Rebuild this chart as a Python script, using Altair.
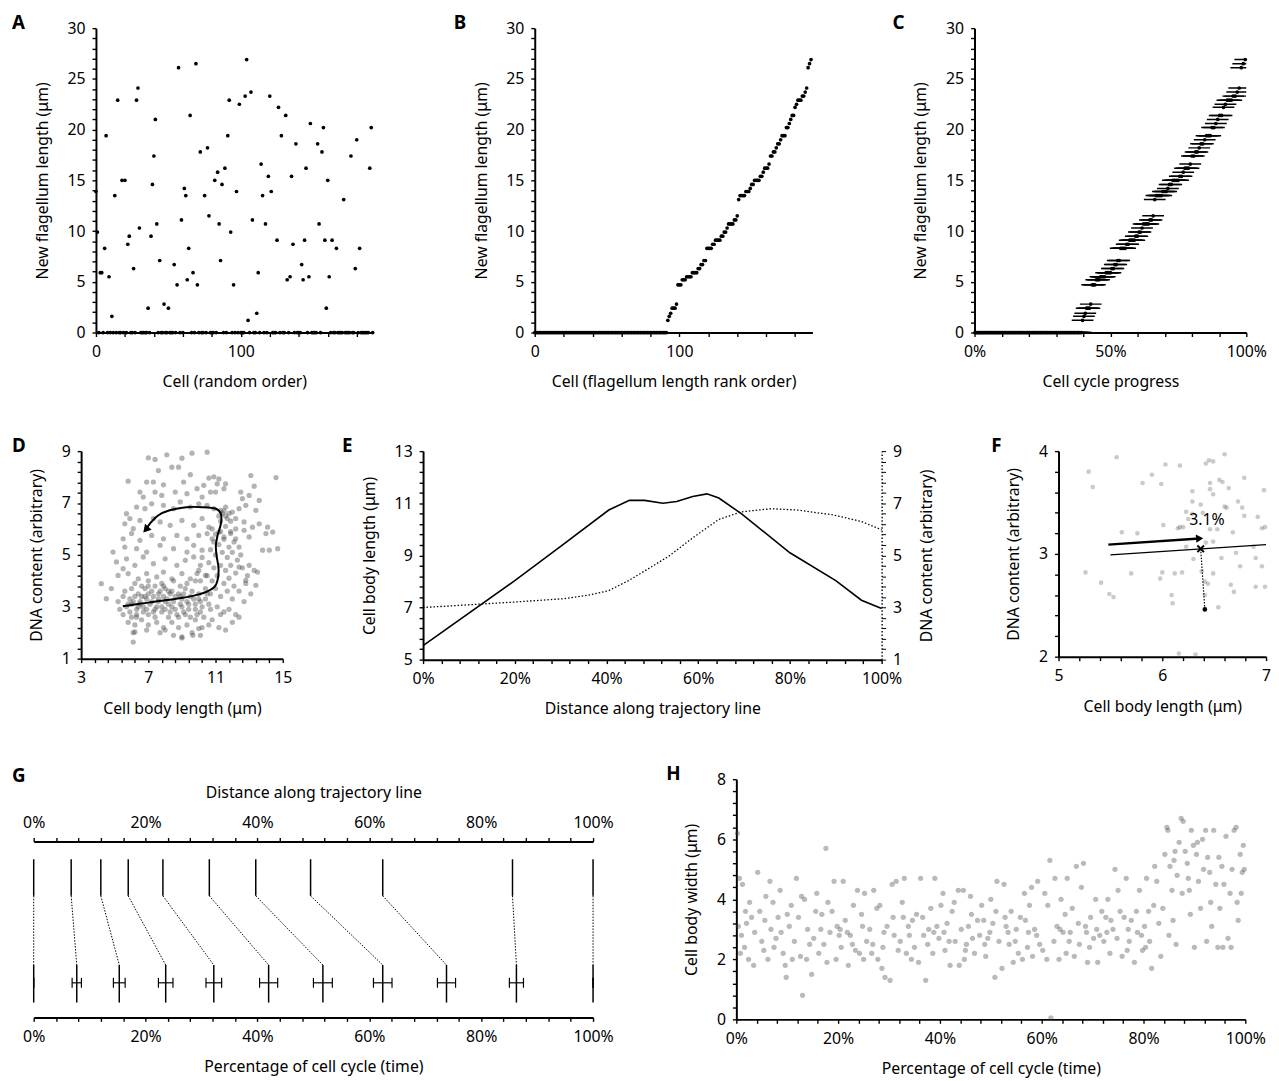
import json
import numpy as np
import pandas as pd
import altair as alt

FONT = "Noto Sans"
FS = 16

# ---------------- Panels A-C: new flagellum length per cell ----------------
N_CELLS = 192
nonzero_cell = [0, 1, 3, 4, 6, 7, 9, 11, 13, 15, 18, 20, 22, 23, 26, 28, 29, 30, 36, 38,
                39, 40, 41, 42, 44, 47, 50, 54, 56, 57, 59, 61, 62, 63, 64, 65, 67, 69, 70, 72,
                75, 77, 78, 82, 84, 85, 86, 87, 89, 91, 92, 93, 95, 97, 99, 103, 104, 105, 107, 108,
                111, 112, 114, 115, 117, 119, 120, 121, 125, 126, 128, 131, 132, 134, 135, 136, 138, 142, 143, 144,
                145, 147, 148, 153, 154, 156, 157, 158, 159, 160, 161, 163, 166, 171, 176, 179, 180, 182, 189, 190]
nonzero_len = [13.9, 9.9, 5.9, 5.9, 8.3, 19.4, 5.5, 1.6, 13.5, 22.9, 15.0, 15.0, 8.7, 9.5, 6.3, 22.9, 24.1, 10.3, 2.4, 9.5,
               14.6, 17.4, 21.0, 10.7, 7.1, 2.8, 2.4, 6.7, 4.7, 26.1, 11.1, 14.2, 13.5, 5.2, 8.3, 21.4, 5.9, 26.5, 4.7, 17.8,
               13.5, 18.2, 11.5, 15.0, 15.8, 10.7, 7.1, 14.6, 16.2, 19.4, 22.9, 9.9, 4.7, 13.9, 22.5, 23.3, 26.9, 1.2, 23.7, 11.1,
               1.9, 5.9, 16.6, 13.5, 10.7, 15.4, 23.3, 13.9, 9.1, 22.2, 19.4, 21.4, 5.2, 5.5, 15.4, 8.7, 18.6, 6.7, 5.2, 9.1,
               16.2, 5.5, 20.6, 18.6, 10.7, 17.8, 20.2, 9.1, 2.4, 15.0, 5.5, 9.1, 8.3, 13.1, 17.4, 6.3, 19.0, 8.3, 16.2, 20.2]
c_progress_err = 4.0  # +/- cell-cycle progress uncertainty (%)

# ---------------- Panel D: cell body length vs DNA content ----------------
d_points = [
    (7.0, 8.74), (7.4, 8.68), (8.1, 8.86), (9.0, 8.73), (9.6, 8.92), (10.5, 8.96),
    (7.6, 8.25), (8.4, 8.38), (8.8, 8.38), (9.5, 8.09),
    (5.8, 7.84), (6.9, 7.81), (7.3, 7.81), (7.9, 7.70), (9.1, 7.81), (10.6, 7.96), (10.9, 8.01), (11.2, 7.93),
    (11.6, 7.74), (13.1, 8.06), (14.6, 7.98), (13.3, 7.65), (10.3, 7.68), (11.1, 7.74),
    (6.5, 7.42), (6.7, 7.23), (7.4, 7.42), (7.8, 7.29), (8.6, 7.42), (9.3, 7.36), (9.9, 7.55), (10.2, 7.23),
    (10.7, 7.42), (11.0, 7.42), (11.5, 7.55), (12.5, 7.42), (12.6, 7.17), (13.0, 7.29), (13.6, 7.10),
    (5.7, 6.59), (6.3, 6.84), (6.8, 6.78), (7.2, 6.97), (7.9, 6.91), (8.5, 6.78), (8.9, 7.04), (9.5, 6.84),
    (10.0, 6.97), (10.5, 6.91), (10.9, 6.78), (11.3, 6.72), (11.6, 6.84), (12.0, 6.65), (12.4, 6.78), (12.8, 6.91), (13.4, 6.72),
    (11.4, 6.6), (11.6, 6.5), (11.5, 6.7), (11.7, 6.4), (11.3, 6.3), (11.8, 6.6), (11.2, 6.5), (11.9, 6.3),
    (5.6, 6.20), (6.1, 6.01), (6.5, 6.33), (7.7, 6.27), (8.3, 6.14), (9.0, 6.33), (9.7, 6.14), (10.2, 6.40),
    (10.6, 6.07), (12.2, 6.40), (12.7, 6.27), (13.2, 6.07), (13.6, 6.20), (14.1, 6.07), (7.3, 6.40), (5.9, 6.40),
    (5.5, 5.62), (6.0, 5.82), (6.5, 5.56), (7.2, 5.75), (7.9, 5.62), (8.7, 5.75), (9.3, 5.62), (10.0, 5.75),
    (10.5, 5.82), (10.8, 5.62), (11.2, 5.88), (11.5, 5.69), (11.9, 5.82), (12.2, 5.62), (12.7, 5.95), (13.0, 5.69),
    (14.0, 5.82), (14.4, 5.88), (13.8, 5.18), (14.2, 5.18), (14.7, 5.24),
    (10.8, 6.0), (11.0, 5.8), (11.3, 5.9), (11.6, 6.1), (11.9, 5.9), (12.2, 6.0), (10.9, 5.5), (11.2, 5.4),
    (11.5, 5.6), (11.8, 5.3), (12.1, 5.5), (12.4, 5.3), (10.7, 5.2), (11.0, 5.0), (11.4, 5.1), (11.7, 4.9),
    (12.0, 5.1), (12.3, 4.8), (10.6, 4.7), (10.9, 4.5), (11.3, 4.6), (11.6, 4.4), (11.9, 4.6), (12.2, 4.3),
    (12.6, 4.5), (10.5, 4.2), (10.8, 4.0), (11.1, 4.2), (11.5, 3.9), (11.8, 4.1), (12.1, 3.8), (10.4, 3.7),
    (10.7, 3.5), (11.0, 3.7), (11.3, 3.4), (11.7, 3.6), (12.0, 3.3), (12.4, 3.6), (12.8, 3.9), (10.2, 4.9),
    (10.0, 4.4), (9.8, 4.0), (12.5, 5.0), (12.9, 4.2), (13.3, 4.4), (12.7, 3.2), (13.1, 3.5),
    (5.6, 5.30), (6.3, 5.24), (6.9, 5.11), (7.7, 5.37), (8.5, 5.24), (9.3, 5.11), (9.7, 5.37), (10.2, 5.18), (4.9, 5.11),
    (5.1, 4.73), (5.7, 4.85), (6.2, 4.60), (6.7, 4.92), (7.3, 4.66), (8.0, 4.85), (8.7, 4.60), (9.2, 4.79),
    (9.7, 4.92), (10.1, 4.60), (12.4, 4.53), (13.0, 4.60), (13.5, 4.34), (5.5, 4.47),
    (5.2, 4.21), (4.8, 3.70), (5.8, 4.28), (6.4, 4.08), (6.9, 4.28), (7.5, 4.15), (7.9, 4.34), (8.4, 4.08),
    (9.0, 4.28), (9.5, 4.08), (9.9, 4.28), (10.4, 4.21), (12.8, 4.02), (13.4, 3.83), (4.5, 3.31), (4.2, 3.89),
    (6.2, 3.9), (7.0, 4.0), (7.8, 3.9), (8.5, 4.0), (9.3, 3.9), (10.1, 4.0), (7.4, 3.8), (8.9, 3.8),
    (5.6, 3.6), (6.0, 3.7), (6.4, 3.5), (6.8, 3.7), (7.2, 3.6), (7.6, 3.5), (8.0, 3.7), (8.4, 3.6),
    (8.8, 3.5), (9.2, 3.7), (9.6, 3.6), (10.0, 3.5), (10.4, 3.3), (6.6, 3.8), (7.9, 3.4), (9.0, 3.3),
    (5.2, 3.2), (5.5, 3.4), (5.9, 3.3), (6.2, 3.4), (6.5, 3.2), (6.9, 3.3), (7.3, 3.4), (7.6, 3.2),
    (8.1, 3.3), (8.5, 3.2), (8.9, 3.4), (9.3, 3.2), (9.7, 3.3), (10.1, 3.2), (10.6, 3.1), (7.0, 3.5), (8.3, 3.5),
    (5.3, 2.9), (5.7, 3.0), (6.0, 3.1), (6.3, 2.9), (6.7, 3.0), (7.1, 3.1), (7.4, 2.9), (7.8, 3.0),
    (8.2, 3.1), (8.6, 2.9), (9.0, 3.0), (9.4, 3.1), (9.8, 2.9), (10.2, 3.0), (10.7, 2.9), (11.1, 3.0),
    (11.5, 2.8), (6.5, 3.1), (8.0, 2.9),
    (5.5, 2.7), (5.9, 2.8), (6.3, 2.6), (6.7, 2.8), (7.0, 2.7), (7.4, 2.6), (7.8, 2.8), (8.2, 2.6),
    (8.7, 2.7), (9.1, 2.8), (9.5, 2.6), (9.9, 2.7), (10.3, 2.6), (10.8, 2.5), (11.3, 2.7), (11.8, 2.9), (12.2, 2.7),
    (5.8, 2.4), (6.2, 2.3), (6.6, 2.5), (7.0, 2.3), (7.5, 2.4), (7.9, 2.2), (8.4, 2.4), (8.8, 2.2),
    (9.3, 2.3), (9.8, 2.5), (10.2, 2.2), (10.6, 2.3), (11.2, 2.2), (12.0, 2.4), (12.4, 2.6),
    (6.1, 2.0), (6.9, 2.1), (7.7, 2.0), (8.5, 1.9), (9.6, 2.0), (9.0, 1.8), (10.1, 1.9), (11.6, 2.1), (8.0, 2.1),
    (6.2, 2.03), (6.1, 1.64), (9.0, 1.84), (9.65, 1.90), (10.0, 2.16),
    (6.1, 3.2), (6.4, 3.0), (6.8, 3.4), (7.2, 3.2), (7.5, 3.0), (7.7, 3.6), (8.0, 3.2), (8.3, 2.8),
    (8.6, 3.4), (8.9, 3.1), (9.2, 2.7), (9.5, 3.4), (9.8, 3.1), (10.1, 2.8), (6.3, 2.7), (6.9, 2.9),
    (7.3, 2.8), (7.6, 3.3), (8.4, 3.0), (8.8, 2.6), (9.4, 2.9), (10.0, 3.3), (10.5, 3.5), (7.0, 3.8),
    (7.9, 3.8), (6.6, 3.4), (8.2, 3.6), (9.1, 3.5), (5.8, 3.1), (6.0, 2.6),
]
traj_d_len = [5.48, 6.99, 8.66, 9.65, 10.44, 10.93, 11.12, 11.18, 11.06, 11.02, 11.12, 11.32, 11.32,
              11.02, 10.24, 9.26, 8.27, 7.58, 7.09, 6.90]
traj_d_dna = [3.02, 3.16, 3.31, 3.42, 3.57, 3.76, 4.02, 4.47, 4.98, 5.37, 5.75, 6.20, 6.59,
              6.78, 6.84, 6.84, 6.72, 6.52, 6.20, 6.01]

# ---------------- Panel E: profiles along the trajectory ----------------
e_len_dist = [0, 20, 30, 40.5, 45, 48.3, 52.3, 55.3, 58.8, 61.9, 64.5, 69.4, 80, 90, 95.6, 100]
e_len = [5.54, 8.03, 9.35, 10.74, 11.11, 11.11, 11.0, 11.07, 11.26, 11.36, 11.2, 10.6, 9.1, 8.03, 7.28, 6.96]
e_dna_dist = [0, 12.4, 20, 30.8, 36, 40.5, 44.8, 48.3, 53.6, 58.8, 64.5, 69.4, 75.9, 81.6, 89.5, 95.6, 100]
e_dna = [3.0, 3.13, 3.21, 3.34, 3.47, 3.65, 4.03, 4.4, 4.97, 5.67, 6.38, 6.67, 6.79, 6.74, 6.55, 6.3, 5.98]

# ---------------- Panel F: projection onto trajectory ----------------
f_points = [
    (5.56, 3.94), (5.29, 3.80), (5.33, 3.65), (6.03, 3.87), (6.17, 3.86), (6.42, 3.88), (6.45, 3.91), (6.49, 3.90),
    (6.60, 3.97), (5.90, 3.77), (5.81, 3.69), (5.99, 3.68), (6.29, 3.61), (6.29, 3.51), (6.37, 3.48), (6.46, 3.69),
    (6.46, 3.63), (6.49, 3.58), (6.55, 3.72), (6.58, 3.70), (6.64, 3.64), (6.60, 3.46), (6.62, 3.45), (6.79, 3.74),
    (6.73, 3.51), (6.77, 3.45), (6.79, 3.37), (6.92, 3.36), (6.98, 3.62), (6.23, 3.41), (6.29, 3.39), (6.39, 3.40),
    (6.17, 3.26), (6.20, 3.26), (6.25, 3.34), (6.01, 3.28), (6.15, 3.25), (6.46, 3.24), (6.53, 3.24), (6.68, 3.21),
    (6.96, 3.25), (6.99, 3.26), (5.61, 3.21), (5.76, 3.20), (6.23, 3.07), (6.49, 3.12), (6.71, 3.01), (6.88, 3.07),
    (6.57, 2.96), (6.30, 2.95), (5.26, 2.82), (5.70, 2.81), (5.41, 2.72), (5.98, 2.76), (6.00, 2.82), (6.12, 2.81),
    (6.19, 2.82), (6.38, 2.83), (6.49, 2.81), (6.41, 2.73), (6.44, 2.71), (6.75, 2.88), (6.90, 2.96), (6.96, 2.88),
    (6.66, 2.70), (6.69, 2.63), (6.90, 2.68), (6.99, 2.68), (5.49, 2.61), (5.53, 2.58), (6.09, 2.60), (6.10, 2.52),
    (6.41, 2.60), (6.54, 2.48), (6.16, 2.03), (6.32, 2.02), (6.42, 3.11),
]
f_traj_len = [5.5, 7.0]
f_traj_dna = [2.99, 3.09]
f_arrow_len = [5.48, 6.36]
f_arrow_dna = [3.09, 3.15]
f_cell_len, f_cell_dna = 6.41, 2.46
f_proj_len, f_proj_dna = 6.37, 3.05
f_label_len, f_label_dna, f_label_text = 6.43, 3.33, "3.1%"

# ---------------- Panel G: trajectory distance vs cell-cycle time ----------------
g_traj_pct = [0, 6.7, 12.0, 16.9, 23.1, 31.4, 39.7, 49.5, 62.4, 85.6, 100]
g_time_pct = [0, 7.7, 15.3, 23.6, 32.2, 42.0, 51.7, 62.4, 73.8, 86.3, 100]
g_time_err = [0, 0.83, 1.05, 1.3, 1.4, 1.62, 1.69, 1.66, 1.62, 1.26, 0]

# ---------------- Panel H: cell body width over the cell cycle ----------------
h_points = [
    (0.2, 6.2), (0.6, 4.7), (1.2, 4.5), (1.8, 3.6), (0.4, 3.1), (1.0, 2.8), (1.6, 2.4), (2.4, 2.0), (3.0, 3.4),
    (3.6, 2.9), (2.6, 3.9), (0.8, 2.2), (3.4, 1.8), (2.0, 3.2),
    (4.2, 4.9), (5.0, 2.6), (5.6, 3.3), (6.2, 2.0), (6.6, 4.6), (7.2, 3.9), (7.8, 2.7), (4.6, 3.6), (5.4, 2.3),
    (6.8, 3.0), (7.4, 2.4), (5.8, 4.1),
    (8.2, 3.4), (8.6, 4.3), (9.2, 2.2), (9.6, 1.8), (10.0, 3.5), (10.4, 3.1), (11.0, 2.0), (11.4, 2.6), (9.8, 1.4),
    (11.8, 4.7), (8.8, 2.9), (10.8, 3.8),
    (12.2, 3.4), (12.6, 2.1), (13.0, 0.8), (13.4, 4.0), (14.0, 3.0), (14.4, 2.5), (14.8, 1.5), (15.2, 2.7),
    (15.6, 3.6), (12.8, 4.1), (13.8, 2.0), (15.8, 4.2),
    (16.2, 2.2), (16.6, 3.0), (17.2, 2.5), (17.6, 5.7), (18.0, 3.9), (18.4, 2.9), (18.8, 3.6), (19.2, 4.6),
    (19.6, 2.0), (16.8, 3.5), (17.8, 1.9), (19.8, 3.1),
    (20.2, 2.8), (20.6, 2.4), (21.0, 4.6), (21.4, 3.3), (22.0, 1.8), (22.4, 2.8), (23.0, 3.8), (23.4, 2.3),
    (23.8, 4.3), (21.8, 2.9), (22.8, 2.5), (20.4, 3.0),
    (24.2, 2.2), (24.8, 3.1), (25.2, 4.2), (25.6, 2.6), (26.2, 3.0), (26.6, 2.2), (27.0, 4.3), (27.6, 3.7),
    (27.8, 2.0), (25.0, 2.0), (26.8, 2.5), (24.6, 3.5),
    (28.2, 3.8), (28.8, 2.4), (29.2, 1.4), (29.6, 3.1), (30.2, 1.3), (30.6, 4.5), (31.0, 2.8), (31.4, 4.6),
    (31.8, 2.3), (29.0, 2.9), (30.8, 3.4), (28.6, 1.7),
    (32.2, 2.6), (32.6, 3.9), (33.0, 4.7), (33.4, 2.2), (34.0, 2.8), (34.6, 3.3), (35.0, 2.4), (35.4, 3.5),
    (35.8, 1.9), (33.8, 3.1), (34.4, 2.0), (32.8, 3.4),
    (36.2, 4.7), (36.8, 2.8), (37.2, 1.3), (37.6, 2.5), (38.2, 3.7), (38.6, 2.2), (39.0, 4.7), (39.4, 3.1),
    (39.8, 2.7), (36.6, 3.4), (37.8, 3.0), (38.8, 2.9),
    (40.2, 3.8), (40.6, 4.2), (41.0, 2.3), (41.4, 3.2), (42.0, 1.8), (42.4, 3.6), (43.0, 2.6), (43.6, 4.3),
    (43.8, 1.8), (41.8, 2.6), (42.8, 3.9), (40.8, 2.9),
    (44.2, 3.0), (44.6, 4.3), (45.0, 2.3), (45.6, 3.1), (46.0, 4.1), (46.4, 2.7), (46.8, 2.2), (47.4, 3.3),
    (47.8, 2.8), (45.2, 2.5), (46.2, 3.5), (44.8, 2.0),
    (48.2, 3.8), (48.6, 3.3), (49.0, 2.1), (49.4, 2.7), (50.0, 4.0), (50.4, 3.2), (50.8, 1.4), (51.2, 4.6),
    (51.6, 2.6), (49.8, 2.9), (51.0, 3.6), (48.8, 2.5),
    (52.2, 1.7), (52.6, 4.5), (53.0, 3.1), (53.6, 2.5), (54.0, 3.6), (54.4, 1.9), (55.0, 3.0), (55.4, 2.2),
    (55.8, 3.4), (53.4, 2.9), (54.8, 2.6), (52.8, 3.4),
    (56.2, 2.0), (56.6, 4.2), (57.2, 2.4), (57.6, 3.8), (58.2, 2.1), (58.6, 3.0), (59.2, 4.6), (59.6, 2.5),
    (58.0, 4.4), (56.8, 3.3), (59.0, 2.8), (57.4, 2.9),
    (60.2, 2.3), (60.6, 4.2), (61.2, 3.8), (61.6, 5.3), (61.8, 0.05), (62.4, 2.6), (63.0, 3.1), (63.4, 2.0),
    (63.8, 4.0), (62.6, 4.7), (61.0, 2.0), (63.6, 3.0),
    (64.2, 2.9), (64.6, 3.5), (65.0, 4.7), (65.4, 2.6), (66.0, 3.7), (66.4, 2.1), (66.8, 5.1), (67.2, 3.2),
    (67.8, 4.4), (65.6, 2.9), (67.4, 2.5), (64.8, 2.2),
    (68.2, 5.2), (68.6, 3.1), (69.0, 1.9), (69.6, 3.4), (70.2, 2.7), (70.6, 4.0), (71.0, 1.9), (71.4, 2.8),
    (71.8, 3.6), (69.4, 2.4), (70.8, 3.0), (68.8, 2.9),
    (72.2, 2.6), (72.6, 3.4), (73.0, 4.0), (73.4, 2.2), (74.0, 3.0), (74.4, 5.0), (74.8, 2.7), (75.4, 3.6),
    (75.8, 2.1), (73.6, 3.3), (75.0, 4.3), (72.8, 2.9),
    (76.2, 3.4), (76.6, 4.7), (77.2, 2.6), (77.6, 3.3), (78.2, 1.9), (78.6, 3.6), (79.2, 4.3), (79.6, 2.8),
    (79.8, 2.3), (77.0, 3.0), (78.8, 2.9), (76.8, 2.3),
    (80.2, 3.1), (80.6, 4.7), (81.2, 2.6), (81.6, 1.7), (82.0, 3.8), (82.2, 5.1), (82.6, 4.6), (83.0, 3.2),
    (83.4, 2.1), (83.8, 3.7), (81.0, 3.6), (80.4, 2.4),
    (84.2, 5.5), (84.6, 6.4), (84.8, 6.3), (85.2, 5.1), (85.6, 4.3), (85.8, 3.3), (86.2, 5.6), (86.6, 4.8),
    (87.0, 5.9), (87.4, 6.7), (87.8, 6.6), (86.4, 2.5), (85.0, 2.8), (87.6, 4.2), (86.0, 5.3),
    (88.2, 5.6), (88.6, 5.2), (89.0, 4.3), (89.4, 6.3), (89.8, 5.8), (90.0, 2.4), (90.4, 5.5), (90.8, 4.6),
    (91.2, 3.7), (91.6, 6.0), (91.8, 5.0), (89.2, 3.5), (90.6, 5.9), (88.8, 4.7),
    (92.2, 6.3), (92.6, 5.4), (93.0, 4.9), (93.4, 3.1), (93.8, 6.3), (94.2, 4.5), (94.6, 2.4), (95.0, 3.7),
    (95.4, 5.1), (95.8, 4.5), (94.8, 5.4), (93.2, 3.9), (92.4, 2.6), (95.6, 2.4),
    (96.2, 6.1), (96.6, 2.7), (97.0, 4.2), (97.4, 5.0), (97.8, 6.3), (98.2, 6.4), (98.6, 3.3), (99.0, 5.5),
    (99.4, 4.9), (99.8, 5.0), (99.6, 5.8), (97.2, 2.4), (98.4, 3.9), (99.2, 4.2),
]

# ---------------- axis tick lists ----------------
ticks_flag_y = list(range(0, 31));            major_flag_y = [0, 5, 10, 15, 20, 25, 30]
ticks_cell_x = list(range(0, 181, 20));       major_cell_x = [0, 100]
ticks_C_x = list(range(0, 101, 10));          major_C_x = [0, 50, 100]
ticks_pct4 = list(range(0, 101, 4));          major_pct20 = [0, 20, 40, 60, 80, 100]
ticks_D_x = [round(3 + 0.8 * i, 1) for i in range(16)];  major_D_x = [3, 7, 11, 15]
ticks_dna = [round(1 + 0.4 * i, 1) for i in range(21)];  major_dna = [1, 3, 5, 7, 9]
ticks_E_y = [round(5 + 0.4 * i, 1) for i in range(21)];  major_E_y = [5, 7, 9, 11, 13]
ticks_F_x = [round(5 + 0.2 * i, 1) for i in range(11)];  major_F_x = [5, 6, 7]
ticks_F_y = [round(2 + 0.2 * i, 1) for i in range(11)];  major_F_y = [2, 3, 4]
ticks_H_y = [round(0.4 * i, 1) for i in range(21)];      major_H_y = [0, 2, 4, 6, 8]


def ax(values, majors, title, pct=False, lp=7, tp=15, **kw):
    test = "indexof(%s, datum.value) >= 0" % json.dumps(majors)
    lab = "format(datum.value, '~g') + '%'" if pct else "format(datum.value, '~g')"
    d = dict(values=values, title=title, grid=False,
             labelExpr=f"{test} ? {lab} : ''",
             tickSize=4,
             labelOverlap=False, labelFlush=False,
             labelPadding=lp, titlePadding=tp,
             domainColor="black", domainWidth=2, tickColor="black", tickWidth=1.4,
             labelFont=FONT, labelFontSize=FS, labelColor="black",
             titleFont=FONT, titleFontSize=FS, titleFontWeight="normal", titleColor="black")
    d.update(kw)
    return alt.Axis(**d)


def yax(values, majors, title, **kw):
    return ax(values, majors, title, tp=17, **kw)


def letter(t, dx, dy=17):
    return alt.TitleParams(text=t, anchor="start", frame="group", dx=dx, dy=dy,
                           font=FONT, fontSize=19, fontWeight="bold", color="black")


def spacer(w, h):
    return alt.Chart(pd.DataFrame({"s": [0]})).mark_point(opacity=0).encode(
        x=alt.X("s:Q", axis=None), y=alt.Y("s:Q", axis=None)).properties(width=w, height=h)


# ---------------- A ----------------
flag_random = [0.0] * N_CELLS
for c, v in zip(nonzero_cell, nonzero_len):
    flag_random[c] = v
dfA = pd.DataFrame({"cell": list(range(N_CELLS)), "len": flag_random})
yflag = alt.Y("len:Q", scale=alt.Scale(domain=[0, 30], nice=False),
              axis=yax(ticks_flag_y, major_flag_y, "New flagellum length (μm)"))
A = alt.Chart(dfA).mark_circle(size=14, color="black", opacity=1).encode(
    x=alt.X("cell:Q", scale=alt.Scale(domain=[0, 191], nice=False),
            axis=ax(ticks_cell_x, major_cell_x, "Cell (random order)")),
    y=yflag,
).properties(width=280, height=308, title=letter("A", -85))

# ---------------- B ----------------
dfB = pd.DataFrame({"rank": list(range(N_CELLS)), "len": sorted(flag_random)})
B = alt.Chart(dfB).mark_circle(size=14, color="black", opacity=1).encode(
    x=alt.X("rank:Q", scale=alt.Scale(domain=[0, 192], nice=False),
            axis=ax(ticks_cell_x, major_cell_x, "Cell (flagellum length rank order)")),
    y=yflag,
).properties(width=281, height=308, title=letter("B", -82))

# ---------------- C ----------------
dfC = dfB.copy()
# rank -> cell-cycle age for an exponentially growing population
dfC["progress"] = 100 * -np.log2(1 - (dfC["rank"] + 0.5) / (2 * N_CELLS))
dfC["lo"] = dfC["progress"] - c_progress_err
dfC["hi"] = dfC["progress"] + c_progress_err
scC = alt.Scale(domain=[0, 100], nice=False)
axC = ax(ticks_C_x, major_C_x, "Cell cycle progress", pct=True)
C_bars = alt.Chart(dfC).mark_rule(color="black", strokeWidth=1.5, clip=True).encode(
    x=alt.X("lo:Q", scale=scC, axis=axC), x2="hi:Q", y=yflag)
C_pts = alt.Chart(dfC).mark_circle(size=14, color="black", opacity=1).encode(
    x=alt.X("progress:Q", scale=scC, axis=axC), y=yflag)
C = alt.layer(C_bars, C_pts).properties(width=275, height=308, title=letter("C", -83))

# ---------------- D ----------------
dfD = pd.DataFrame(d_points, columns=["length", "dna"])
xD = alt.X("length:Q", scale=alt.Scale(domain=[3, 15], nice=False, zero=False),
           axis=ax(ticks_D_x, major_D_x, "Cell body length (μm)"))
yD = alt.Y("dna:Q", scale=alt.Scale(domain=[1, 9], nice=False, zero=False),
           axis=yax(ticks_dna, major_dna, "DNA content (arbitrary)"))
dfDt = pd.DataFrame({"length": traj_d_len, "dna": traj_d_dna, "order": list(range(len(traj_d_len)))})
D_pts = alt.Chart(dfD).mark_circle(size=28, color="#404040", opacity=0.4).encode(x=xD, y=yD)
D_line = alt.Chart(dfDt).mark_line(color="black", strokeWidth=2, interpolate="cardinal").encode(
    x=xD, y=yD, order="order:Q")
D_head = alt.Chart(dfDt.tail(1)).mark_point(shape="triangle", filled=True, size=80, angle=221,
                                            color="black", opacity=1).encode(x=xD, y=yD)
D = alt.layer(D_pts, D_line, D_head).properties(width=204, height=210, title=letter("D", -70))

# ---------------- E ----------------
dfEs = pd.DataFrame({"dist": e_len_dist, "len": e_len})
dfEd = pd.DataFrame({"dist": e_dna_dist, "dna": e_dna})
xE = alt.X("dist:Q", scale=alt.Scale(domain=[0, 100], nice=False),
           axis=ax(ticks_pct4, major_pct20, "Distance along trajectory line", pct=True))
E_solid = alt.Chart(dfEs).mark_line(color="black", strokeWidth=1.6).encode(
    x=xE, y=alt.Y("len:Q", scale=alt.Scale(domain=[5, 13], nice=False, zero=False),
                  axis=yax(ticks_E_y, major_E_y, "Cell body length (μm)", orient="left")))
E_dot = alt.Chart(dfEd).mark_line(color="black", strokeWidth=1.3, strokeDash=[1.5, 2]).encode(
    x=xE, y=alt.Y("dna:Q", scale=alt.Scale(domain=[1, 9], nice=False, zero=False),
                  axis=yax(ticks_dna, major_dna, "DNA content (arbitrary)", orient="right",
                           titleAngle=270, titleBaseline="top", domainDash=[1.5, 2],
                           domainWidth=1.4, tickWidth=1)))
E = alt.layer(E_solid, E_dot).resolve_scale(y="independent").properties(
    width=464, height=211, title=letter("E", -82))

# ---------------- F ----------------
dfF = pd.DataFrame(f_points, columns=["length", "dna"])
xF = alt.X("length:Q", scale=alt.Scale(domain=[5, 7], nice=False, zero=False),
           axis=ax(ticks_F_x, major_F_x, "Cell body length (μm)"))
yF = alt.Y("dna:Q", scale=alt.Scale(domain=[2, 4], nice=False, zero=False),
           axis=yax(ticks_F_y, major_F_y, "DNA content (arbitrary)"))
F_pts = alt.Chart(dfF).mark_circle(size=22, color="#404040", opacity=0.28).encode(x=xF, y=yF)
F_traj = alt.Chart(pd.DataFrame({"length": f_traj_len, "dna": f_traj_dna})).mark_line(
    color="black", strokeWidth=1.4, clip=True).encode(x=xF, y=yF)
dfFa = pd.DataFrame({"length": f_arrow_len, "dna": f_arrow_dna})
F_arrow = alt.Chart(dfFa).mark_line(color="black", strokeWidth=2.4).encode(x=xF, y=yF)
F_head = alt.Chart(dfFa.tail(1)).mark_point(shape="triangle-right", filled=True, size=70, angle=356,
                                            color="black", opacity=1).encode(x=xF, y=yF)
dfFp = pd.DataFrame({"length": [f_cell_len], "dna": [f_cell_dna],
                     "plen": [f_proj_len], "pdna": [f_proj_dna]})
F_drop = alt.Chart(dfFp).mark_rule(color="black", strokeWidth=1.2, strokeDash=[1.5, 1.5]).encode(
    x=xF, y=yF, x2="plen:Q", y2="pdna:Q")
F_cell = alt.Chart(dfFp).mark_circle(size=22, color="black", opacity=1).encode(x=xF, y=yF)
F_x = alt.Chart(pd.DataFrame({"length": [f_proj_len], "dna": [f_proj_dna]})).mark_point(
    shape="M-1,-1L1,1M1,-1L-1,1", size=45, color="black", strokeWidth=2, filled=False, opacity=1).encode(x=xF, y=yF)
F_txt = alt.Chart(pd.DataFrame({"length": [f_label_len], "dna": [f_label_dna], "t": [f_label_text]})).mark_text(
    font=FONT, fontSize=16, color="black").encode(x=xF, y=yF, text="t:N")
F = alt.layer(F_pts, F_traj, F_drop, F_arrow, F_head, F_cell, F_x, F_txt).properties(
    width=210, height=208, title=letter("F", -68))

# ---------------- G ----------------
dfG = pd.DataFrame({"traj": g_traj_pct, "time": g_time_pct,
                    "lo": [t - e for t, e in zip(g_time_pct, g_time_err)],
                    "hi": [t + e for t, e in zip(g_time_pct, g_time_err)]})
scG = alt.Scale(domain=[0, 100], nice=False)
scGy = alt.Scale(domain=[0, 241], reverse=True, nice=False, zero=False)


def gy(level):
    return alt.YDatum(level, scale=scGy, axis=None)


G_top = alt.Chart(dfG).mark_rule(color="black", strokeWidth=1.5).encode(
    x=alt.X("traj:Q", scale=scG, axis=ax(ticks_pct4, major_pct20, "Distance along trajectory line",
                                           pct=True, orient="top", offset=-63)),
    y=gy(81), y2=alt.Y2Datum(118))
G_link = alt.Chart(dfG).mark_rule(color="black", strokeWidth=1, strokeDash=[1.5, 1.5]).encode(
    x=alt.X("traj:Q", scale=scG, axis=None), x2="time:Q", y=gy(118), y2=alt.Y2Datum(188))
G_low = alt.Chart(dfG).mark_rule(color="black", strokeWidth=1.5).encode(
    x=alt.X("time:Q", scale=scG, axis=ax(ticks_pct4, major_pct20, "Percentage of cell cycle (time)",
                                           pct=True, orient="bottom")),
    y=gy(188), y2=alt.Y2Datum(226))
G_err = alt.Chart(dfG).mark_rule(color="black", strokeWidth=1.2).encode(
    x=alt.X("lo:Q", scale=scG, axis=None), x2="hi:Q", y=gy(206))
G_cap1 = alt.Chart(dfG).mark_rule(color="black", strokeWidth=1.2).encode(
    x=alt.X("lo:Q", scale=scG, axis=None), y=gy(201), y2=alt.Y2Datum(211))
G_cap2 = alt.Chart(dfG).mark_rule(color="black", strokeWidth=1.2).encode(
    x=alt.X("hi:Q", scale=scG, axis=None), y=gy(201), y2=alt.Y2Datum(211))
G = alt.layer(G_top, G_link, G_low, G_err, G_cap1, G_cap2).resolve_axis(x="independent").properties(
    width=566, height=241, title=letter("G", -22, dy=11))

# ---------------- H ----------------
dfH = pd.DataFrame(h_points, columns=["pct", "width"])
H = alt.Chart(dfH).mark_circle(size=28, color="#404040", opacity=0.36).encode(
    x=alt.X("pct:Q", scale=alt.Scale(domain=[0, 100], nice=False),
            axis=ax(ticks_pct4, major_pct20, "Percentage of cell cycle (time)", pct=True)),
    y=alt.Y("width:Q", scale=alt.Scale(domain=[0, 8], nice=False),
            axis=yax(ticks_H_y, major_H_y, "Cell body width (μm)")),
).properties(width=515, height=243, title=letter("H", -71))

row1 = alt.hconcat(spacer(1, 10), A, spacer(80, 10), B, spacer(80, 10), C, spacing=0)
row2 = alt.hconcat(spacer(1, 10), D, spacer(50, 10), E, spacer(57, 10), F, spacing=0)
row3 = alt.hconcat(spacer(1, 10), G, spacer(53, 10), H, spacing=0)

chart = alt.vconcat(row1, spacer(1, 48), row2, spacer(1, 49), row3, spacing=0).properties(
    padding={"left": -3, "top": 0, "right": 0, "bottom": 0}
).configure(font=FONT).configure_view(stroke=None)

chart.save("out.html", embed_options={"renderer": "svg", "actions": False})
